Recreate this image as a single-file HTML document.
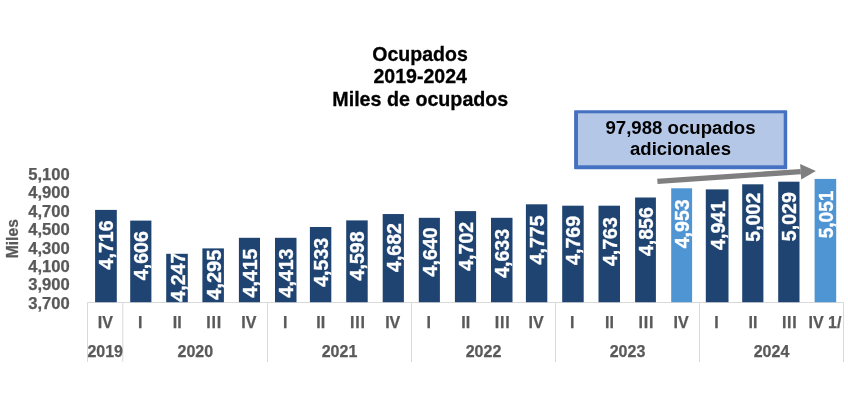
<!DOCTYPE html>
<html lang="es"><head><meta charset="utf-8"><title>Ocupados 2019-2024</title>
<style>
html,body{margin:0;padding:0;background:#fff;}
body{width:848px;height:410px;overflow:hidden;}
svg{display:block;font-family:"Liberation Sans",sans-serif;font-weight:bold;}
.t{fill:#000;font-size:20.5px;text-anchor:middle;stroke:#000;stroke-width:0.3px;}
.ax{fill:#595959;font-size:16px;stroke:#595959;stroke-width:0.25px;}
.bl{fill:#fff;font-size:20px;text-anchor:middle;stroke:#fff;stroke-width:0.35px;}
</style></head><body>
<svg width="848" height="410" viewBox="0 0 848 410">
<rect width="848" height="410" fill="#fff"/>
<text class="t" x="420.0" y="60.9" textLength="95.5" lengthAdjust="spacingAndGlyphs">Ocupados</text>
<text class="t" x="420.2" y="83.1" textLength="93.5" lengthAdjust="spacingAndGlyphs">2019-2024</text>
<text class="t" x="420.3" y="105.9" textLength="176" lengthAdjust="spacingAndGlyphs">Miles de ocupados</text>
<text class="ax" x="69.8" y="179.8" text-anchor="end" textLength="41.5" lengthAdjust="spacingAndGlyphs">5,100</text>
<text class="ax" x="69.8" y="198.2" text-anchor="end" textLength="41.5" lengthAdjust="spacingAndGlyphs">4,900</text>
<text class="ax" x="69.8" y="216.7" text-anchor="end" textLength="41.5" lengthAdjust="spacingAndGlyphs">4,700</text>
<text class="ax" x="69.8" y="235.1" text-anchor="end" textLength="41.5" lengthAdjust="spacingAndGlyphs">4,500</text>
<text class="ax" x="69.8" y="253.6" text-anchor="end" textLength="41.5" lengthAdjust="spacingAndGlyphs">4,300</text>
<text class="ax" x="69.8" y="272.0" text-anchor="end" textLength="41.5" lengthAdjust="spacingAndGlyphs">4,100</text>
<text class="ax" x="69.8" y="290.4" text-anchor="end" textLength="41.5" lengthAdjust="spacingAndGlyphs">3,900</text>
<text class="ax" x="69.8" y="308.9" text-anchor="end" textLength="41.5" lengthAdjust="spacingAndGlyphs">3,700</text>
<text class="ax" transform="translate(18.3,238.7) rotate(-90)" text-anchor="middle" textLength="39" lengthAdjust="spacingAndGlyphs">Miles</text>
<g stroke="#d9d9d9" stroke-width="1" fill="none">
<path d="M87.5 302.5H843.5"/>
<path d="M87.5 302.5V362"/>
<path d="M122.8 302.5V362"/>
<path d="M267.5 302.5V362"/>
<path d="M411.5 302.5V362"/>
<path d="M555.5 302.5V362"/>
<path d="M699.5 302.5V362"/>
<path d="M843.5 302.5V362"/>
</g>
<rect x="95.10" y="209.90" width="21.7" height="92.30" fill="#1f4471"/>
<rect x="130.20" y="220.60" width="21.2" height="81.60" fill="#1f4471"/>
<rect x="166.20" y="253.80" width="21.6" height="48.40" fill="#1f4471"/>
<rect x="202.40" y="248.40" width="21.5" height="53.80" fill="#1f4471"/>
<rect x="238.90" y="237.80" width="21.1" height="64.40" fill="#1f4471"/>
<rect x="275.00" y="237.80" width="21.5" height="64.40" fill="#1f4471"/>
<rect x="309.90" y="227.00" width="21.4" height="75.20" fill="#1f4471"/>
<rect x="346.20" y="220.40" width="21.5" height="81.80" fill="#1f4471"/>
<rect x="382.70" y="214.05" width="21.2" height="88.15" fill="#1f4471"/>
<rect x="418.80" y="217.80" width="21.1" height="84.40" fill="#1f4471"/>
<rect x="454.90" y="211.10" width="21.2" height="91.10" fill="#1f4471"/>
<rect x="491.00" y="217.80" width="21.5" height="84.40" fill="#1f4471"/>
<rect x="525.90" y="204.30" width="21.4" height="97.90" fill="#1f4471"/>
<rect x="562.20" y="205.70" width="21.5" height="96.50" fill="#1f4471"/>
<rect x="598.50" y="205.70" width="21.5" height="96.50" fill="#1f4471"/>
<rect x="635.10" y="197.50" width="20.8" height="104.70" fill="#1f4471"/>
<rect x="671.20" y="188.30" width="20.9" height="113.90" fill="#4f94d3"/>
<rect x="705.80" y="189.40" width="22.7" height="112.80" fill="#1f4471"/>
<rect x="742.20" y="184.30" width="21.2" height="117.90" fill="#1f4471"/>
<rect x="778.20" y="181.70" width="21.3" height="120.50" fill="#1f4471"/>
<rect x="814.60" y="178.90" width="21.6" height="123.30" fill="#4f94d3"/>
<text class="bl" transform="translate(113.45,244.95) rotate(-90)" textLength="49" lengthAdjust="spacingAndGlyphs">4,716</text>
<text class="bl" transform="translate(148.30,255.70) rotate(-90)" textLength="49" lengthAdjust="spacingAndGlyphs">4,606</text>
<text class="bl" transform="translate(184.50,277.20) rotate(-90)" textLength="49" lengthAdjust="spacingAndGlyphs">4,247</text>
<text class="bl" transform="translate(220.65,274.70) rotate(-90)" textLength="50.3" lengthAdjust="spacingAndGlyphs">4,295</text>
<text class="bl" transform="translate(256.95,273.00) rotate(-90)" textLength="49" lengthAdjust="spacingAndGlyphs">4,415</text>
<text class="bl" transform="translate(293.25,273.00) rotate(-90)" textLength="49" lengthAdjust="spacingAndGlyphs">4,413</text>
<text class="bl" transform="translate(328.10,262.30) rotate(-90)" textLength="49" lengthAdjust="spacingAndGlyphs">4,533</text>
<text class="bl" transform="translate(364.45,255.90) rotate(-90)" textLength="49" lengthAdjust="spacingAndGlyphs">4,598</text>
<text class="bl" transform="translate(400.80,247.50) rotate(-90)" textLength="49" lengthAdjust="spacingAndGlyphs">4,682</text>
<text class="bl" transform="translate(436.85,251.90) rotate(-90)" textLength="49" lengthAdjust="spacingAndGlyphs">4,640</text>
<text class="bl" transform="translate(473.00,246.30) rotate(-90)" textLength="49" lengthAdjust="spacingAndGlyphs">4,702</text>
<text class="bl" transform="translate(509.25,253.35) rotate(-90)" textLength="49" lengthAdjust="spacingAndGlyphs">4,633</text>
<text class="bl" transform="translate(544.10,239.90) rotate(-90)" textLength="49" lengthAdjust="spacingAndGlyphs">4,775</text>
<text class="bl" transform="translate(580.45,240.40) rotate(-90)" textLength="49" lengthAdjust="spacingAndGlyphs">4,769</text>
<text class="bl" transform="translate(616.75,241.60) rotate(-90)" textLength="49" lengthAdjust="spacingAndGlyphs">4,763</text>
<text class="bl" transform="translate(653.00,231.60) rotate(-90)" textLength="49" lengthAdjust="spacingAndGlyphs">4,856</text>
<text class="bl" transform="translate(689.15,223.80) rotate(-90)" textLength="49" lengthAdjust="spacingAndGlyphs">4,953</text>
<text class="bl" transform="translate(724.65,225.40) rotate(-90)" textLength="49" lengthAdjust="spacingAndGlyphs">4,941</text>
<text class="bl" transform="translate(760.30,217.20) rotate(-90)" textLength="49" lengthAdjust="spacingAndGlyphs">5,002</text>
<text class="bl" transform="translate(796.35,216.70) rotate(-90)" textLength="49" lengthAdjust="spacingAndGlyphs">5,029</text>
<text class="bl" transform="translate(832.90,214.50) rotate(-90)" textLength="47.3" lengthAdjust="spacingAndGlyphs">5,051</text>
<text class="ax" x="105.35" y="327.7" text-anchor="middle">IV</text>
<text class="ax" x="140.20" y="327.7" text-anchor="middle">I</text>
<text class="ax" x="177.20" y="327.7" text-anchor="middle">II</text>
<text class="ax" x="213.65" y="327.7" text-anchor="middle" textLength="14.9" lengthAdjust="spacing">III</text>
<text class="ax" x="248.85" y="327.7" text-anchor="middle">IV</text>
<text class="ax" x="285.15" y="327.7" text-anchor="middle">I</text>
<text class="ax" x="320.80" y="327.7" text-anchor="middle">II</text>
<text class="ax" x="357.45" y="327.7" text-anchor="middle" textLength="14.9" lengthAdjust="spacing">III</text>
<text class="ax" x="392.70" y="327.7" text-anchor="middle">IV</text>
<text class="ax" x="428.75" y="327.7" text-anchor="middle">I</text>
<text class="ax" x="465.70" y="327.7" text-anchor="middle">II</text>
<text class="ax" x="502.25" y="327.7" text-anchor="middle" textLength="14.9" lengthAdjust="spacing">III</text>
<text class="ax" x="536.00" y="327.7" text-anchor="middle">IV</text>
<text class="ax" x="572.35" y="327.7" text-anchor="middle">I</text>
<text class="ax" x="609.45" y="327.7" text-anchor="middle">II</text>
<text class="ax" x="646.00" y="327.7" text-anchor="middle" textLength="14.9" lengthAdjust="spacing">III</text>
<text class="ax" x="681.05" y="327.7" text-anchor="middle">IV</text>
<text class="ax" x="716.55" y="327.7" text-anchor="middle">I</text>
<text class="ax" x="753.00" y="327.7" text-anchor="middle">II</text>
<text class="ax" x="789.35" y="327.7" text-anchor="middle" textLength="14.9" lengthAdjust="spacing">III</text>
<text class="ax" x="825.00" y="327.7" text-anchor="middle">IV 1/</text>
<text class="ax" x="105.2" y="357.2" text-anchor="middle">2019</text>
<text class="ax" x="195.3" y="357.2" text-anchor="middle">2020</text>
<text class="ax" x="339.5" y="357.2" text-anchor="middle">2021</text>
<text class="ax" x="483.5" y="357.2" text-anchor="middle">2022</text>
<text class="ax" x="627.5" y="357.2" text-anchor="middle">2023</text>
<text class="ax" x="771.5" y="357.2" text-anchor="middle">2024</text>
<rect x="574.1" y="110.2" width="213.1" height="59" rx="0.8" fill="#4471c2"/>
<rect x="578" y="113.3" width="205.7" height="52" fill="#b4c7e7"/>
<text x="680.5" y="134" font-size="18.67" fill="#000" text-anchor="middle" textLength="150" lengthAdjust="spacingAndGlyphs">97,988 ocupados</text>
<text x="680.5" y="155.2" font-size="18.67" fill="#000" text-anchor="middle" textLength="101" lengthAdjust="spacingAndGlyphs">adicionales</text>
<g fill="#7f7f7f" stroke="none">
<path d="M657.2 178.8 L800.6 168.9 L801 174.3 L657.6 184.1 Z"/>
<path d="M800.1 164 L815.9 170.9 L801.2 179.4 Z"/>
</g>
</svg>
</body></html>
